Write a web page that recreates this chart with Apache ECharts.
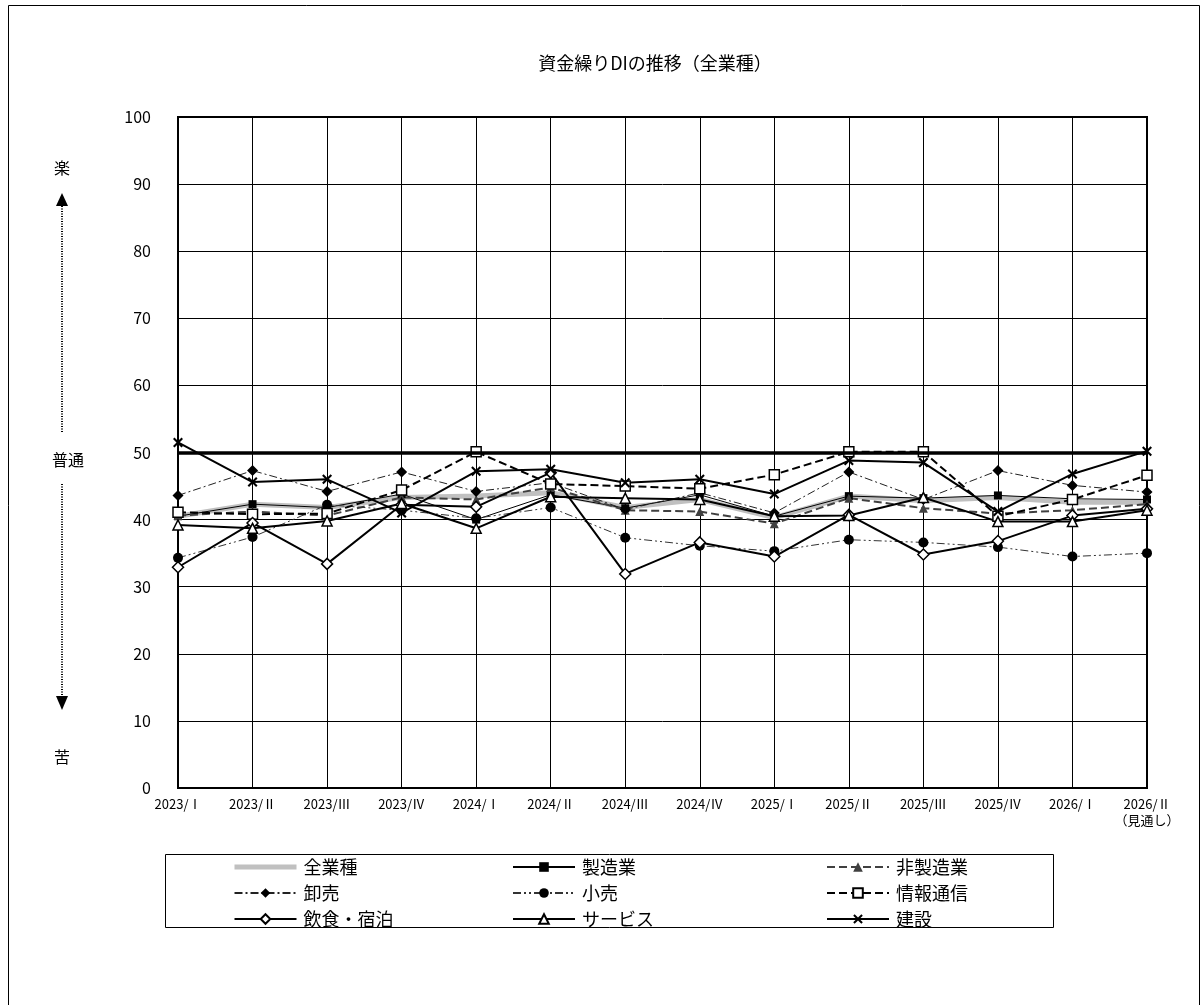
<!DOCTYPE html>
<html>
<head>
<meta charset="utf-8">
<script src="https://cdn.jsdelivr.net/npm/echarts@6/dist/echarts.min.js"></script>
<style>
  html, body { margin: 0; padding: 0; background: #fff; }
  #main { width: 1203px; height: 1005px; }
</style>
</head>
<body>
<div id="main"></div>
<script>
// 四半期ラベル
var categories = ['2023/Ⅰ', '2023/Ⅱ', '2023/Ⅲ', '2023/Ⅳ', '2024/Ⅰ', '2024/Ⅱ', '2024/Ⅲ',
  '2024/Ⅳ', '2025/Ⅰ', '2025/Ⅱ', '2025/Ⅲ', '2025/Ⅳ', '2026/Ⅰ', '2026/Ⅱ\n（見通し）'];
var yTicks = [0, 10, 20, 30, 40, 50, 60, 70, 80, 90, 100];

// 各業種のDI
var zengyoshu   = [40.5, 42.3, 41.8, 43.3, 43.5, 44.0, 41.8, 43.0, 40.3, 43.5, 42.8, 43.3, 42.6, 42.6];
var seizo       = [40.5, 42.3, 41.8, 43.8, 40.0, 43.7, 41.7, 43.7, 40.5, 43.5, 43.2, 43.6, 43.1, 43.0];
var hiseizo     = [40.6, 41.2, 40.6, 43.3, 43.0, 44.8, 41.4, 41.2, 39.4, 43.2, 41.7, 40.9, 41.4, 42.3];
var oroshi      = [43.6, 47.3, 44.2, 47.1, 44.2, 45.5, 41.5, 44.0, 41.0, 47.1, 43.0, 47.3, 45.1, 44.1];
var kouri       = [34.3, 37.4, 42.2, 41.4, 40.2, 41.8, 37.3, 36.1, 35.3, 37.0, 36.6, 35.9, 34.5, 35.0];
var johotsushin = [41.1, 40.8, 40.9, 44.4, 50.1, 45.3, 45.0, 44.6, 46.7, 50.1, 50.1, 40.5, 43.0, 46.6];
var inshoku     = [32.9, 39.5, 33.4, 42.2, 41.9, 47.0, 31.9, 36.6, 34.5, 40.7, 34.8, 36.8, 40.6, 41.6];
var service     = [39.2, 38.7, 39.8, 42.4, 38.7, 43.4, 43.2, 43.0, 40.5, 40.6, 43.3, 39.7, 39.7, 41.4];
var kensetsu    = [51.5, 45.6, 46.0, 41.0, 47.2, 47.5, 45.5, 46.0, 43.8, 48.8, 48.5, 41.2, 46.8, 50.2];
var baseLine = 50;

var FONT = '"Noto Sans CJK JP", sans-serif';
var xMark = 'path://M0,1.5L1.5,0L5,3.5L8.5,0L10,1.5L6.5,5L10,8.5L8.5,10L5,6.5L1.5,10L0,8.5L3.5,5Z';
var dashDot = [8, 3, 2, 3];
var dashDotDot = [8, 3, 2, 3, 2, 3];

function mk(name, data, o) {
    return {
        name: name,
        type: 'line',
        data: data,
        symbol: o.symbol || 'none',
        symbolSize: o.size || 9,
        showSymbol: !!o.symbol,
        z: o.z || 3,
        itemStyle: { color: o.fill || '#000', borderColor: o.border || '#000', borderWidth: o.bw || 0 },
        lineStyle: { color: o.color || '#000', width: o.width || 1, type: o.type || 'solid' },
        emphasis: { disabled: true },
        animation: false
    };
}

var chart = echarts.init(document.getElementById('main'));

var series = [
    mk('全業種', zengyoshu, { color: '#c0c0c0', fill: '#c0c0c0', border: '#c0c0c0', width: 5, z: 2 }),
    mk('製造業', seizo, { symbol: 'rect', size: 8, width: 1 }),
    mk('非製造業', hiseizo, { symbol: 'triangle', size: 9, fill: '#404040', color: '#404040', width: 2, type: 'dashed' }),
    mk('卸売', oroshi, { symbol: 'diamond', size: 11, width: 1, type: dashDot, color: '#222' }),
    mk('小売', kouri, { symbol: 'circle', size: 10, width: 1, type: dashDotDot, color: '#333' }),
    mk('情報通信', johotsushin, { symbol: 'rect', size: 10, fill: '#fff', bw: 1.5, width: 2, type: 'dashed' }),
    mk('飲食・宿泊', inshoku, { symbol: 'diamond', size: 11, fill: '#fff', bw: 1.5, width: 2 }),
    mk('サービス', service, { symbol: 'triangle', size: 10, fill: '#fff', bw: 1.5, width: 2 }),
    mk('建設', kensetsu, { symbol: xMark, size: 10, width: 2 })
];
series[0].markLine = {
    silent: true,
    symbol: 'none',
    label: { show: false },
    lineStyle: { color: '#000', width: 3.5, type: 'solid' },
    data: [{ yAxis: baseLine }]
};

function legendCol(left, names) {
    return {
        orient: 'vertical',
        left: left,
        top: 853,
        itemWidth: 62,
        itemHeight: 12,
        itemGap: 8,
        data: names,
        selectedMode: false,
        textStyle: { fontFamily: FONT, fontSize: 18, color: '#000', padding: [0, 0, 0, 2] }
    };
}

chart.setOption({
    animation: false,
    backgroundColor: '#fff',
    title: {
        text: '資金繰りDIの推移（全業種）',
        left: 650,
        top: 49,
        textAlign: 'center',
        textStyle: { fontFamily: FONT, fontSize: 18, fontWeight: 'normal', color: '#000' }
    },
    grid: {
        left: 178, right: 56, top: 117, bottom: 217,
        show: true, borderColor: '#000', borderWidth: 2, backgroundColor: 'transparent'
    },
    legend: [
        legendCol(227, [{ name: '全業種', itemStyle: { opacity: 0 }, lineStyle: { color: '#c0c0c0', width: 5 } }, '卸売', '飲食・宿泊']),
        legendCol(507, ['製造業', '小売', 'サービス']),
        legendCol(821, ['非製造業', '情報通信', '建設'])
    ],
    xAxis: {
        type: 'category',
        data: categories,
        boundaryGap: false,
        axisLine: { lineStyle: { color: '#000', width: 2 } },
        axisTick: { show: false },
        splitLine: { show: true, lineStyle: { color: '#000', width: 1 } },
        axisLabel: { fontFamily: FONT, fontSize: 13, color: '#000', margin: 8, lineHeight: 16, interval: 0 }
    },
    yAxis: {
        type: 'value',
        min: yTicks[0],
        max: yTicks[yTicks.length - 1],
        interval: 10,
        axisLine: { show: true, lineStyle: { color: '#000', width: 2 } },
        axisTick: { show: false },
        splitLine: { show: true, lineStyle: { color: '#000', width: 1 } },
        axisLabel: { fontFamily: FONT, fontSize: 16, color: '#000', margin: 27 }
    },
    series: series,
    graphic: [
        { type: 'rect', shape: { x: 8.5, y: 5.5, width: 1191, height: 1010 }, style: { fill: 'none', stroke: '#000', lineWidth: 1 }, silent: true },
        { type: 'rect', shape: { x: 165.5, y: 854.5, width: 888, height: 73 }, style: { fill: 'none', stroke: '#000', lineWidth: 1 }, silent: true, z: -1 },
        { type: 'text', x: 62, y: 168, style: { text: '楽', font: '16px ' + FONT, fill: '#000', align: 'center', verticalAlign: 'middle' } },
        { type: 'polygon', shape: { points: [[62, 193], [56, 206], [68, 206]] }, style: { fill: '#000' } },
        { type: 'line', shape: { x1: 62, y1: 206, x2: 62, y2: 433 }, style: { stroke: '#000', lineWidth: 2, lineDash: [1, 1.5] } },
        { type: 'text', x: 68, y: 460, style: { text: '普通', font: '16px ' + FONT, fill: '#000', align: 'center', verticalAlign: 'middle' } },
        { type: 'line', shape: { x1: 62, y1: 484, x2: 62, y2: 695 }, style: { stroke: '#000', lineWidth: 2, lineDash: [1, 1.5] } },
        { type: 'polygon', shape: { points: [[62, 710], [56, 696], [68, 696]] }, style: { fill: '#000' } },
        { type: 'text', x: 62, y: 757, style: { text: '苦', font: '16px ' + FONT, fill: '#000', align: 'center', verticalAlign: 'middle' } }
    ]
});
</script>
</body>
</html>
